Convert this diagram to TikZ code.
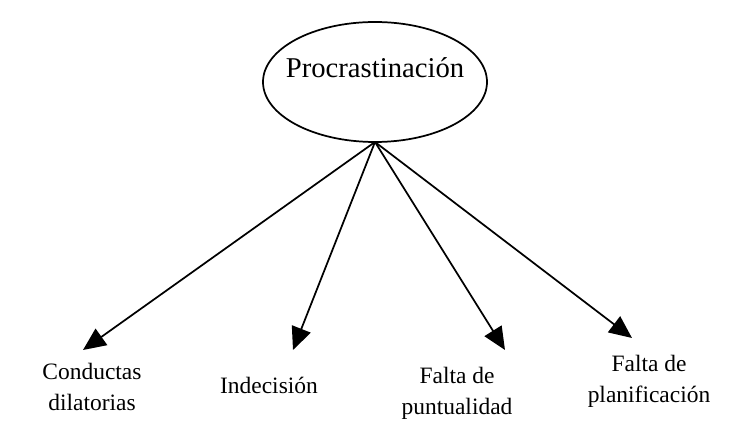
\documentclass[tikz,border=0pt]{standalone}
\usepackage{fontspec}
\setmainfont{Liberation Serif}
\usetikzlibrary{shapes.geometric,arrows.meta}

\begin{document}
\begin{tikzpicture}[x=0.75pt,y=0.75pt,yscale=-1,xscale=1,
  flecha/.style={line width=1.3pt, -{Triangle[length=17pt,width=15pt]}},
  etiqueta/.style={inner sep=0.75pt, align=center, font=\fontsize{17.6}{23.3}\selectfont}]
\useasboundingbox (0,0) rectangle (740,434);

%Shape: Ellipse [id:proc]
\node [draw, ellipse, line width=1.3pt, inner sep=0pt, outer sep=0pt, minimum width=168pt, minimum height=90pt] (proc) at (375,82) {};

% Text Node
\node [inner sep=0.75pt, font=\fontsize{21.5}{26}\selectfont] (procTexto) at (375,68) {Procrastinación};

% Text Node
\node [etiqueta] (conductas) at (92,387) {Conductas\\dilatorias};
% Text Node
\node [etiqueta] (indecision) at (269,385) {Indecisión};
% Text Node
\node [etiqueta] (puntualidad) at (457,393) {Falta de\\puntualidad};
% Text Node
\node [etiqueta] (planificacion) at (649,381) {Falta de\\planificación};

% arrow tips above the labels
\coordinate (pConductas) at (83,350);
\coordinate (pIndecision) at (293,350);
\coordinate (pPuntualidad) at (505,350);
\coordinate (pPlanificacion) at (632,338);

%Straight Lines [id:flechas]
\draw [flecha] (proc.south) -- (pConductas);
\draw [flecha] (proc.south) -- (pIndecision);
\draw [flecha] (proc.south) -- (pPuntualidad);
\draw [flecha] (proc.south) -- (pPlanificacion);

\end{tikzpicture}
\end{document}
